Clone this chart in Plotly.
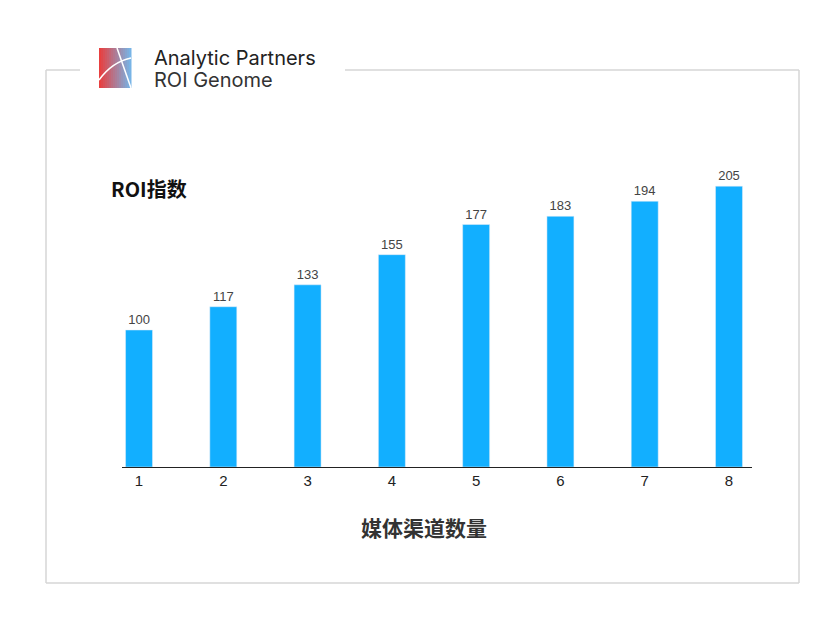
import plotly.graph_objects as go

channels = [1, 2, 3, 4, 5, 6, 7, 8]
roi_index = [100, 117, 133, 155, 177, 183, 194, 205]
tick_labels = ["1", "2", "3", "4", "5", "6", "7", "8"]

OFF = 8  # page body margin
L, R, T, B = 122 - OFF, 752 - OFF, 150 - OFF, 467 - OFF
def px(x): return (x - OFF - L) / (R - L)
def py(y): return (B - (y - OFF)) / (B - T)

fig = go.Figure(go.Bar(
    x=channels, y=roi_index, width=0.32, marker_color="#12AFFF",
    text=[str(v) for v in roi_index], textposition="outside",
    textfont=dict(size=13, color="#444", family="Arial"), cliponaxis=False))

shapes = []
g = dict(color="#D6D6D6", width=1.5)
for (x0, y0, x1, y1) in [(46, 70, 80, 70), (345, 70, 799, 70), (799, 70, 799, 583),
                         (46, 583, 799, 583), (46, 70, 46, 583)]:
    shapes.append(dict(type="line", xref="paper", yref="paper", x0=px(x0), y0=py(y0),
                       x1=px(x1), y1=py(y1), line=g))
n = 16
for i in range(n):
    t = i / (n - 1)
    r = int(232 + (120 - 232) * t); gg = int(64 + (180 - 64) * t); b = int(64 + (230 - 64) * t)
    x0 = 99 + 32 * i / n; x1 = 99 + 32 * (i + 1) / n + 0.5
    shapes.append(dict(type="rect", xref="paper", yref="paper", x0=px(x0), x1=px(x1),
                       y0=py(88), y1=py(48), fillcolor=f"rgb({r},{gg},{b})", line=dict(width=0)))
shapes.append(dict(type="path", xref="paper", yref="paper",
                   path=f"M {px(99)},{py(80)} Q {px(112)},{py(62)} {px(131)},{py(58)}",
                   line=dict(color="white", width=1.5)))
shapes.append(dict(type="line", xref="paper", yref="paper", x0=px(117), y0=py(48),
                   x1=px(131), y1=py(88), line=dict(color="white", width=1.5)))

ann = [
    dict(text="Analytic Partners", x=px(152), y=py(58), xanchor="left", yanchor="middle",
         font=dict(size=20, color="#222", family="Inter")),
    dict(text="ROI Genome", x=px(152), y=py(80), xanchor="left", yanchor="middle",
         font=dict(size=20, color="#333", family="Inter")),
    dict(text="<b>ROI指数</b>", x=px(109), y=py(188), xanchor="left", yanchor="middle",
         font=dict(size=20, color="#111", family="Noto Sans CJK SC")),
    dict(text="<b>媒体渠道数量</b>", x=px(424), y=py(527), xanchor="center", yanchor="middle",
         font=dict(size=21, color="#333", family="Noto Sans CJK SC")),
]
for a in ann:
    a.update(xref="paper", yref="paper", showarrow=False)

fig.update_layout(
    width=835, height=626, margin=dict(l=L, r=835 - R, t=T, b=626 - B),
    plot_bgcolor="white", paper_bgcolor="white", showlegend=False,
    shapes=shapes, annotations=ann,
    xaxis=dict(range=[0.798, 8.273], tickvals=channels, ticktext=tick_labels,
               showline=True, linecolor="#222", linewidth=1, showgrid=False, ticks="",
               tickfont=dict(size=15, color="#222", family="Arial"), zeroline=False),
    yaxis=dict(range=[0, 231.4], visible=False),
)
fig.write_html("out.html")
